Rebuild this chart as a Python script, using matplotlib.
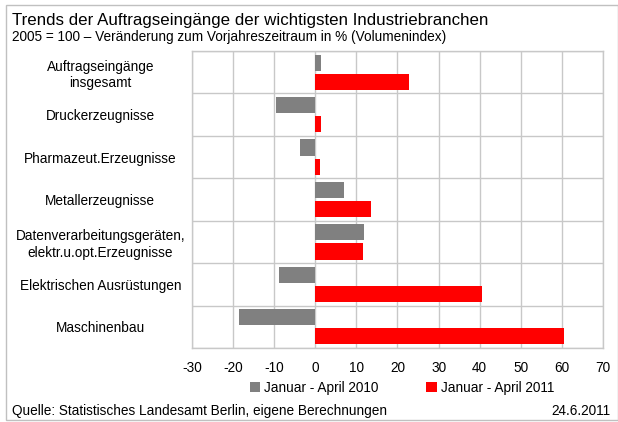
import matplotlib.pyplot as plt
import numpy as np
from matplotlib.patches import Rectangle

plt.rcParams['font.family'] = ['Liberation Sans', 'DejaVu Sans']

# Data
categories = [
    "Auftragseingänge\ninsgesamt",
    "Druckerzeugnisse",
    "Pharmazeut.Erzeugnisse",
    "Metallerzeugnisse",
    "Datenverarbeitungsgeräten,\nelektr.u.opt.Erzeugnisse",
    "Elektrischen Ausrüstungen",
    "Maschinenbau",
]
values_2010 = [1.5, -9.5, -3.7, 7.1, 11.9, -8.8, -18.5]
values_2011 = [22.9, 1.4, 1.2, 13.6, 11.7, 40.5, 60.5]
series_names = ["Januar - April 2010", "Januar - April 2011"]
x_ticks = [-30, -20, -10, 0, 10, 20, 30, 40, 50, 60, 70]

W, H = 618, 422
fig = plt.figure(figsize=(W / 100, H / 100), dpi=100)
ax = fig.add_axes([192 / W, 1 - 348 / H, (603 - 192) / W, (348 - 51) / H])

y = np.arange(len(categories))
bh = 0.38
off = 0.225
b1 = ax.barh(y - off, values_2010, height=bh, color='#808080', label=series_names[0])
b2 = ax.barh(y + off, values_2011, height=bh, color='#ff0000', label=series_names[1])

ax.set_xlim(-30, 70)
ax.set_ylim(len(categories) - 0.5, -0.5)
ax.set_xticks(x_ticks)
ax.set_xticklabels([str(t) for t in x_ticks], fontsize=9.8)
ax.set_yticks(y)
ax.set_yticklabels(categories, fontsize=9.8, ha='center', linespacing=1.25)
ax.tick_params(axis='y', pad=66, length=0)
ax.tick_params(axis='x', length=0, pad=9)
ax.set_yticks(np.arange(-0.5, len(categories), 1), minor=True)
ax.tick_params(axis='y', which='minor', length=0)
ax.grid(axis='x', which='major', color='#c8c8c8', lw=1)
ax.grid(axis='y', which='minor', color='#c8c8c8', lw=1)
ax.set_axisbelow(True)
for s in ax.spines.values():
    s.set_color('#c8c8c8')
    s.set_linewidth(1)

fig.text(12 / W, 1 - 20 / H, "Trends der Auftragseingänge der wichtigsten Industriebranchen",
         fontsize=12.2, va='center', ha='left')
fig.text(12 / W, 1 - 37 / H,
         "2005 = 100 – Veränderung zum Vorjahreszeitraum in % (Volumenindex)",
         fontsize=9.8, va='center', ha='left')

fig.legend(handles=[b1, b2], loc='center left', bbox_to_anchor=(250 / W, 1 - 388 / H),
           ncol=2, frameon=False, fontsize=9.8, handlelength=0.75, handleheight=0.75,
           handletextpad=0.3, columnspacing=3.5, borderpad=0, borderaxespad=0)

fig.text(12 / W, 1 - 411 / H, "Quelle: Statistisches Landesamt Berlin, eigene Berechnungen",
         fontsize=9.8, va='center', ha='left')
fig.text(610 / W, 1 - 411 / H, "24.6.2011", fontsize=9.8, va='center', ha='right')

fig.patches.append(Rectangle((6 / W, 1 - 420 / H), 612 / W, 415 / H, transform=fig.transFigure,
                             fill=False, edgecolor='#c0c0c0', lw=1))

fig.savefig('out.png', dpi=100)
